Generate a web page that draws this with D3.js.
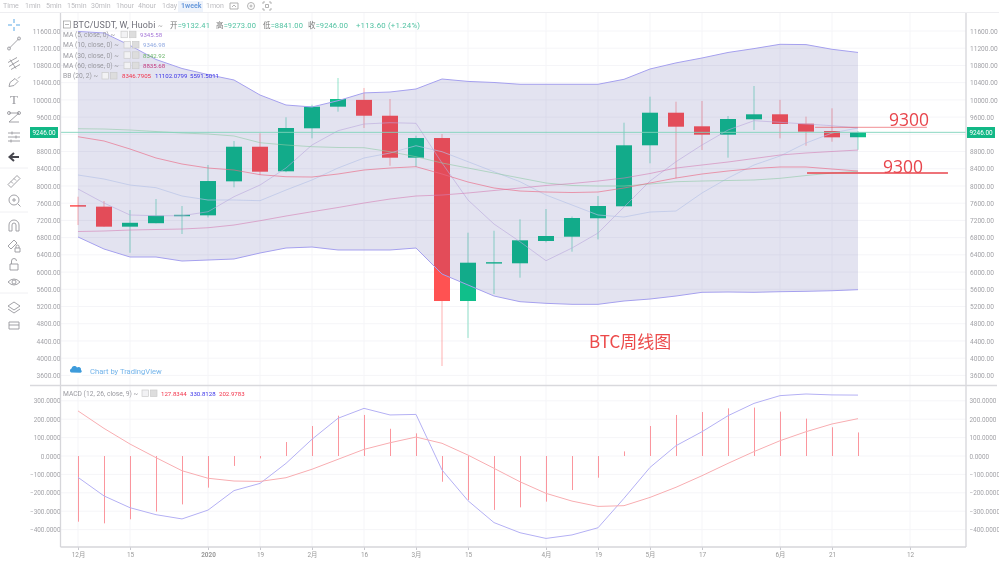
<!DOCTYPE html>
<html><head><meta charset="utf-8">
<script src="https://cdn.jsdelivr.net/npm/d3@7/dist/d3.min.js"></script>
<style>
html,body{margin:0;padding:0;background:#fff;overflow:hidden}
svg{display:block;filter:blur(0.4px)}
text{font-family:Roboto,"Noto Sans CJK SC",sans-serif}
</style></head><body><svg id="c" width="999" height="562"></svg>
<script>
const opens=[7555,7520,7055,7135,7300,7318,8108,8912,8341,9340,9842,10000,9632,8657,9114,5328,6200,6204,6722,6822,7250,7528,8945,9702,9386,9192,9549,9665,9447,9277,9132];
const closes=[7520,7055,7145,7310,7330,8115,8912,8332,9347,9842,10020,9632,8657,9114,5328,6218,6230,6738,6838,7256,7535,8945,9702,9377,9192,9556,9665,9440,9261,9130,9246];
const highs=[7750,7650,7442,7697,7535,8487,9045,9224,9595,9888,10508,10276,10020,9168,9207,6915,6960,7226,7465,7290,7767,9470,10074,9958,9974,9625,10322,10000,9610,9804,9273];
const lows=[7093,7054,6450,7133,6884,7270,7969,8255,8320,9107,9726,9347,8470,8447,3818,4470,5490,5870,6690,6473,6760,7528,8527,8178,8836,8657,9300,9107,8935,9028,8841];
const bbUpper=[11590,11554,11265,10938,10729,10587,10462,10113,9881,9835,9981,10162,10183,10253,10485,10429,10404,10362,10362,10362,10362,10478,10717,10859,10973,11101,11191,11291,11284,11175,11102];
const bbLower=[6815,6536,6350,6350,6257,6280,6304,6443,6559,6582,6513,6513,6513,6559,5955,5700,5444,5312,5274,5251,5251,5328,5374,5444,5530,5537,5530,5544,5553,5567,5591];
const bbBasis=[9144,9045,8859,8650,8510,8417,8371,8262,8215,8208,8278,8371,8417,8448,8278,8092,7953,7883,7860,7848,7860,7953,8069,8185,8278,8348,8406,8441,8441,8394,8347];
const ma5=[7930,7604,7326,7309,7309,7402,7751,8022,8417,8952,9284,9439,9470,9456,8534,7674,7116,6705,6264,6559,6907,7511,8115,8564,8952,9300,9516,9479,9439,9400,9346];
const ma10=[8255,8162,8022,7960,7767,7674,7674,7658,7906,8139,8417,8650,8766,8935,8796,8564,8331,8099,7790,7558,7326,7279,7395,7418,7837,8185,8487,8696,8998,9230,9347];
const ma30=[9330,9323,9300,9265,9230,9207,9161,9005,8952,8912,8894,8889,8796,8680,8534,8417,8301,8185,8069,8011,7999,7999,8046,8099,8115,8127,8139,8178,8243,8301,8343];
const ma60=[6942,6954,6977,6989,7000,7030,7093,7193,7302,7402,7500,7604,7697,7767,7790,7837,7895,7953,8011,8057,8115,8185,8290,8417,8487,8557,8638,8719,8766,8801,8835];
const macdHist=[-357,-366,-344,-302,-263,-172,-54,-13,76,163,219,223,148,123,-140,-239,-293,-279,-248,-185,-118,25,163,223,239,259,263,241,203,156,128];
const macdLine=[-116,-217,-281,-319,-342,-294,-188,-149,-40,91,205,259,223,226,-76,-243,-362,-417,-448,-429,-390,-230,-62,56,132,219,286,328,337,332,331];
const macdSignal=[245,150,65,-9,-80,-121,-136,-138,-118,-72,-18,36,72,103,69,5,-67,-140,-203,-245,-274,-270,-225,-170,-107,-40,24,83,132,174,203];
const priceTicks=[3600,4000,4400,4800,5200,5600,6000,6400,6800,7200,7600,8000,8400,8800,9200,9600,10000,10400,10800,11200,11600];
const macdTicks=[-400,-300,-200,-100,0,100,200,300];
const timeIdx=[0,2,5,7,9,11,13,15,18,20,22,24,27,29,32];
const timeLabels=["12月","15","2020","19","2月","16","3月","15","4月","19","5月","17","6月","21","12"];
const lastPrice=9246;
const periods=["1min","5min","15min","30min","1hour","4hour","1day","1week","1mon"];
const periodX=[25,46,67,91,116,138,162,181,206];
const ohlcKeys=["开","高","低","收"];
const ohlcVals=["9132.41","9273.00","8841.00","9246.00"];
const ohlcX=[170,216,263,308];
const annotPrice=[9363,8301];
const annotStart=[28.35,28.04];
const annotEnd=[32.65,33.46];
const annotText=["9300","9300"];

const GREEN="#10bf8a",RED="#ff5252";
const svg=d3.select("#c");
const L=60.5,R=966,T=13,SEP=385.5,B=547;
const x=d3.scaleLinear().domain([0,32]).range([78,910]);
const y=d3.scaleLinear().domain([3600,11600]).range([375.4,31]);
const ym=d3.scaleLinear().domain([-400,300]).range([529.6,400.8]);
const idx=d3.range(opens.length);

// grids
const g=svg.append("g").attr("stroke","#f5f5f8").attr("stroke-width",1);
priceTicks.forEach(t=>g.append("line").attr("x1",L).attr("x2",R).attr("y1",y(t)).attr("y2",y(t)));
macdTicks.forEach(t=>g.append("line").attr("x1",L).attr("x2",R).attr("y1",ym(t)).attr("y2",ym(t)));
timeIdx.forEach(t=>g.append("line").attr("x1",x(t)).attr("x2",x(t)).attr("y1",T).attr("y2",B));

// candles
const cg=svg.append("g");
cg.selectAll("line").data(idx).join("line")
 .attr("x1",i=>x(i)).attr("x2",i=>x(i)).attr("y1",i=>y(highs[i])).attr("y2",i=>y(lows[i]))
 .attr("stroke",i=>closes[i]>=opens[i]?GREEN:RED).attr("stroke-width",1).attr("stroke-opacity",.45);
cg.selectAll("rect").data(idx).join("rect")
 .attr("x",i=>x(i)-8).attr("width",16)
 .attr("y",i=>y(Math.max(opens[i],closes[i])))
 .attr("height",i=>Math.max(1.4,Math.abs(y(opens[i])-y(closes[i]))))
 .attr("fill",i=>closes[i]>=opens[i]?GREEN:RED);

// band
svg.append("path").datum(idx)
 .attr("d",d3.area().x(i=>x(i)).y0(i=>y(bbLower[i])).y1(i=>y(bbUpper[i])))
 .attr("fill","rgba(40,40,140,0.13)");
const line=(arr,sc)=>d3.line().x((d,i)=>x(i)).y(d=>sc(d))(arr);
const draw=(arr,sc,col,w,op)=>svg.append("path").attr("d",line(arr,sc)).attr("fill","none").attr("stroke",col).attr("stroke-width",w).attr("stroke-opacity",op||1);
draw(ma5,y,"#b9a6dc",1,.6);
draw(ma10,y,"#b5c2e6",1,.65);
draw(ma30,y,"#8fc9a6",1,.6);
draw(ma60,y,"#d47fb4",1,.6);
draw(bbBasis,y,"#ea6a85",1,.65);
draw(bbUpper,y,"#a5a0ee",1);
draw(bbLower,y,"#a5a0ee",1);

// last price line
svg.append("line").attr("x1",L).attr("x2",R).attr("y1",y(lastPrice)).attr("y2",y(lastPrice)).attr("stroke","#7fd3bb").attr("stroke-width",.9);

// annotations
annotPrice.forEach((p,i)=>svg.append("line").attr("x1",x(annotStart[i])).attr("x2",x(annotEnd[i])).attr("y1",y(p)).attr("y2",y(p))
  .attr("stroke","#e8454c").attr("stroke-width",i?1.4:1).attr("stroke-opacity",i?1:.6));
svg.append("text").attr("x",889).attr("y",125.5).attr("font-size",17.5).attr("fill","#e8454c").style("font-family","'Open Sans'").text(annotText[0]);
svg.append("text").attr("x",883).attr("y",173).attr("font-size",17.5).attr("fill","#e8454c").style("font-family","'Open Sans'").text(annotText[1]);
svg.append("text").attr("x",589).attr("y",348).attr("font-size",17).attr("fill","#ec4a4a").style("font-family","'Noto Sans CJK SC'").text("BTC周线图");

// MACD
svg.append("g").selectAll("line").data(idx).join("line")
 .attr("x1",i=>x(i)+.5).attr("x2",i=>x(i)+.5).attr("y1",ym(0)).attr("y2",i=>ym(macdHist[i]))
 .attr("stroke","#fb8a92").attr("stroke-width",.9);
draw(macdLine,ym,"#b4b0f4",1);
draw(macdSignal,ym,"#f8adb1",1);

// axes (the 9200 tick sits under the last-price tag, so it carries no label)
const labelled=priceTicks.filter(t=>t!==9200);
const axisStyle=fs=>s=>{s.select(".domain").remove();s.selectAll("line").remove();s.selectAll("text").attr("fill","#a3a3a8").attr("font-size",fs);};
svg.append("g").attr("transform",`translate(${L},0)`).call(d3.axisLeft(y).tickValues(labelled).tickFormat(d3.format(".2f")).tickSize(0).tickPadding(0)).call(axisStyle(6.6));
svg.append("g").attr("transform",`translate(${R+4},0)`).call(d3.axisRight(y).tickValues(labelled).tickFormat(d3.format(".2f")).tickSize(0).tickPadding(0)).call(axisStyle(6.6));
svg.append("g").attr("transform",`translate(${L},0)`).call(d3.axisLeft(ym).tickValues(macdTicks).tickFormat(d3.format(".4f")).tickSize(0).tickPadding(0)).call(axisStyle(6.4));
svg.append("g").attr("transform",`translate(${R+3.5},0)`).call(d3.axisRight(ym).tickValues(macdTicks).tickFormat(d3.format(".4f")).tickSize(0).tickPadding(0)).call(axisStyle(6.4));
const xa=svg.append("g").attr("transform",`translate(0,${B})`).call(d3.axisBottom(x).tickValues(timeIdx).tickFormat((d,i)=>timeLabels[i]).tickSize(3).tickPadding(2));
xa.select(".domain").remove();xa.selectAll("line").attr("stroke","#c8c8ce");
xa.selectAll("text").attr("fill","#999").attr("font-size",6.4).attr("font-weight",(d,i)=>timeLabels[i]==="2020"?700:400);

// frame
const fr=(a,b,c,d,col,w)=>svg.append("line").attr("x1",a).attr("y1",b).attr("x2",c).attr("y2",d).attr("stroke",col).attr("stroke-width",w);
fr(0,12.5,999,12.5,"#eeeef1",1);
fr(L,T,L,B,"#d6d6da",1.3);fr(R,T,R,B,"#d6d6da",1.3);
fr(30,SEP,997,SEP,"#d9d9dd",1.4);fr(L,B,R,B,"#d6d6da",1.3);

// last price tags
[[30,28],[967,28]].forEach(([a,w])=>{svg.append("rect").attr("x",a).attr("y",127).attr("width",w).attr("height",11).attr("fill","#12b886");
 svg.append("text").attr("x",a+w/2).attr("y",134.8).attr("text-anchor","middle").attr("font-size",6.4).attr("fill","#fff").text(d3.format(".2f")(lastPrice));});

// toolbar
const T1=(tx,ty,s,col,fs,anchor,fw)=>svg.append("text").attr("x",tx).attr("y",ty).attr("fill",col).attr("font-size",fs).attr("text-anchor",anchor||"start").attr("font-weight",fw||400).text(s);
T1(3,8.3,"Time","#bcbcc0",7);
svg.append("rect").attr("x",178).attr("y",1).attr("width",25).attr("height",11).attr("fill","#eef3fb");
periods.forEach((p,i)=>T1(periodX[i],8.3,p,p==="1week"?"#6b9bdc":"#bcbcc0",7,"start",p==="1week"?700:400));
[[234,"M-4-3h8v6h-8zM-2 1l2-2 2 2"],[251,"M-3.5 0a3.5 3.5 0 1 0 7 0a3.5 3.5 0 1 0-7 0M-1 0a1 1 0 1 0 2 0a1 1 0 1 0-2 0"],[267,"M-4-2v-2h2M2-4h2v2M4 2v2h-2M-2 4h-2v-2M-1.5-1.5h3v3h-3z"]].forEach(([ix,d])=>
 svg.append("path").attr("transform",`translate(${ix},6)`).attr("d",d).attr("fill","none").attr("stroke","#aaa").attr("stroke-width",.9));

// legend
svg.append("rect").attr("x",63.5).attr("y",21).attr("width",7).attr("height",7).attr("fill","none").attr("stroke","#999").attr("stroke-width",.7);
svg.append("line").attr("x1",65).attr("x2",69).attr("y1",24.5).attr("y2",24.5).attr("stroke","#999").attr("stroke-width",.7);
T1(73,28,"BTC/USDT, W, Huobi","#70707a",8.9).attr("letter-spacing",.15);
T1(158,28,"~","#aaa",7);
ohlcKeys.forEach((k,i)=>{const t=svg.append("text").attr("x",ohlcX[i]).attr("y",28).attr("font-size",7.5).attr("letter-spacing",.12);
 t.append("tspan").attr("fill","#777").text(k);
 t.append("tspan").attr("fill","#52c2a2").text("="+ohlcVals[i]);});
T1(356,28,"+113.60 (+1.24%)","#52c2a2",7.8).attr("letter-spacing",.2);
const btn=(bx,by)=>{[0,8.5].forEach((o,i)=>svg.append("rect").attr("x",bx+o).attr("y",by-3.5).attr("width",6.5).attr("height",6.5).attr("fill",i?"#ddd":"#f2f2f4").attr("stroke","#ccc").attr("stroke-width",.7));};
const rows=[["MA (5, close, 0) ~",34.7,121,[[140,"9345.58","#a678d8"]]],
 ["MA (10, close, 0) ~",45,124,[[143,"9346.98","#8fa8e0"]]],
 ["MA (30, close, 0) ~",55.3,124,[[143,"8342.92","#6db56d"]]],
 ["MA (60, close, 0) ~",65.7,124,[[143,"8835.68","#c2397f"]]],
 ["BB (20, 2) ~",76,102,[[122,"8346.7905","#f2334a"],[155,"11102.0799","#3a33e8"],[190,"5591.5011","#3a33e8"]]],
 ["MACD (12, 26, close, 9) ~",393.5,142,[[161,"127.8344","#f2334a"],[190,"330.8128","#3a33e8"],[219,"202.9783","#f2334a"]]]];
rows.forEach(([s,ry,bx,vals])=>{T1(63,ry+2.2,s,"#9a9aa0",6.7);btn(bx,ry);vals.forEach(([vx,v,c])=>T1(vx,ry+2.2,v,c,6.1));});

// TradingView
svg.append("circle").attr("cx",76).attr("cy",370).attr("r",8).attr("fill","#fff");
svg.append("path").attr("transform","translate(76,370)").attr("d","M-5 2.5a2.2 2.2 0 0 1 .5-4a3 3 0 0 1 5.5-1a2.5 2.5 0 0 1 4 2.5a1.5 1.5 0 0 1-.5 2.8z").attr("fill","#3d9bdb");
T1(90,373.5,"Chart by TradingView","#74b4ea",7.6);

// side tools
const tool=svg.append("g").attr("fill","none").attr("stroke","#8d8d93").attr("stroke-width",.9);
const ic=(cy,d,col,w)=>tool.append("path").attr("transform",`translate(14,${cy})`).attr("d",d).attr("stroke",col||"#97979d").attr("stroke-width",w||.9);
ic(25,"M0-6v4M0 2v4M-6 0h4M2 0h4","#5aa9e6",1);
ic(43.5,"M-5 5L5-5M-6.5 5a1.5 1.5 0 1 0 3 0a1.5 1.5 0 1 0-3 0M3.5-5a1.5 1.5 0 1 0 3 0a1.5 1.5 0 1 0-3 0");
ic(63.5,"M-6-1L3-6M-5 3L5-3M-3 6L6 1M-4-4L2 5");
ic(81.5,"M-5 5L-4 1L1-3L4 0L0 4zM4-3L6-5");
svg.append("text").attr("x",14).attr("y",104).attr("text-anchor","middle").attr("font-size",13).attr("fill","#97979d").style("font-family","'Liberation Serif'").text("T");
ic(117,"M-5-4L5-4L-5 5L5 5M-6.5-4a1.5 1.5 0 1 0 3 0a1.5 1.5 0 1 0-3 0M3.5-4a1.5 1.5 0 1 0 3 0a1.5 1.5 0 1 0-3 0");
ic(137,"M-6-4h12M-6 0h12M-6 4h12M-2-5.5v3M2-1.5v3M-3 2.5v3");
ic(157,"M5 0h-9M0-4l-4.5 4l4.5 4","#46464e",2);
ic(181.5,"M-6 3L3-6L6-3L-3 6zM-3 0l2 2M0-3l2 2");
ic(200,"M-5 0a5 5 0 1 0 10 0a5 5 0 1 0-10 0M-2 0h4M0-2v4M4 4l2.5 2.5");
ic(226,"M-5 5V-1a5 5 0 0 1 10 0V5h-3V-1a2 2 0 0 0-4 0V5z");
ic(245,"M-6 1L0-5L3-2L-3 4zM1 3h5v4h-5zM2 3V1.5a1.5 1.5 0 0 1 3 0V3");
ic(264,"M-4 0h8v6h-8zM-2.5 0V-3a2.5 2.5 0 0 1 5 0");
ic(282,"M-6 0Q0-6 6 0Q0 6-6 0M-2 0a2 2 0 1 0 4 0a2 2 0 1 0-4 0");
ic(307,"M-6-1L0-5L6-1L0 3zM-6 2L0 6L6 2");
ic(325,"M-5-3h10v7h-10zM-5 0h10");
[168,212,293].forEach(sy=>fr(0,sy,28,sy,"#f0f0f3",1));
</script></body></html>
